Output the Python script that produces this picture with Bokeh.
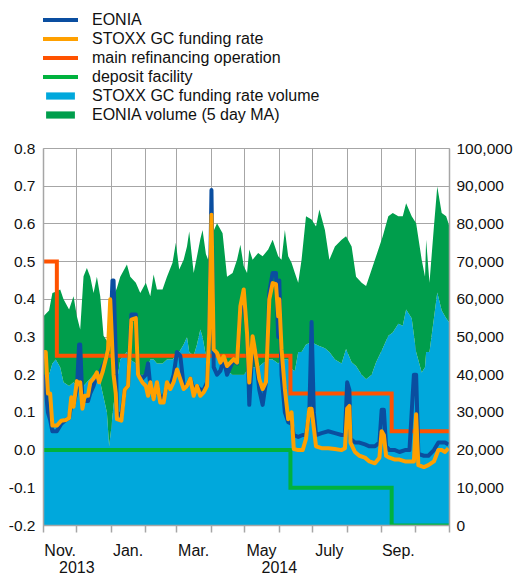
import pandas as pd
from bokeh.plotting import figure
from bokeh.layouts import column
from bokeh.models import (Range1d, LinearAxis, FixedTicker, NumeralTickFormatter,
                          Legend, LegendItem)
from bokeh.embed import file_html
from bokeh.resources import INLINE

# ---------------- data ----------------
rate_dates = [
    "2013-11-01", "2013-11-03", "2013-11-05", "2013-11-07", "2013-11-09", "2013-11-13",
    "2013-11-17", "2013-11-21", "2013-11-24", "2013-11-26", "2013-11-28", "2013-12-01",
    "2013-12-03", "2013-12-04", "2013-12-06", "2013-12-08", "2013-12-11", "2013-12-13",
    "2013-12-16", "2013-12-19", "2013-12-21", "2013-12-24", "2013-12-27", "2013-12-29",
    "2013-12-31", "2014-01-02", "2014-01-03", "2014-01-05", "2014-01-06", "2014-01-10",
    "2014-01-13", "2014-01-16", "2014-01-19", "2014-01-23", "2014-01-25", "2014-01-29",
    "2014-02-01", "2014-02-03", "2014-02-05", "2014-02-08", "2014-02-11", "2014-02-14",
    "2014-02-17", "2014-02-20", "2014-02-23", "2014-02-26", "2014-03-01", "2014-03-04",
    "2014-03-07", "2014-03-10", "2014-03-13", "2014-03-16", "2014-03-19", "2014-03-22",
    "2014-03-25", "2014-03-28", "2014-03-30", "2014-04-01", "2014-04-03", "2014-04-06",
    "2014-04-09", "2014-04-12", "2014-04-15", "2014-04-18", "2014-04-21", "2014-04-24",
    "2014-04-27", "2014-04-30", "2014-05-03", "2014-05-05", "2014-05-08", "2014-05-10",
    "2014-05-14", "2014-05-17", "2014-05-20", "2014-05-23", "2014-05-26", "2014-05-29",
    "2014-05-31", "2014-06-01", "2014-06-03", "2014-06-06", "2014-06-09", "2014-06-12",
    "2014-06-14", "2014-06-18", "2014-06-22", "2014-06-25", "2014-06-28", "2014-06-30",
    "2014-07-02", "2014-07-04", "2014-07-09", "2014-07-15", "2014-07-21", "2014-07-27",
    "2014-07-30", "2014-08-01", "2014-08-03", "2014-08-04", "2014-08-08", "2014-08-12",
    "2014-08-17", "2014-08-21", "2014-08-26", "2014-08-30", "2014-09-01", "2014-09-03",
    "2014-09-05", "2014-09-08", "2014-09-13", "2014-09-17", "2014-09-22", "2014-09-26",
    "2014-09-30", "2014-10-02", "2014-10-04", "2014-10-09", "2014-10-13", "2014-10-18",
    "2014-10-22", "2014-10-25", "2014-10-28", "2014-10-31",
]
stoxx_rate = [
    0.26, 0.26, 0.15, 0.15, 0.065, 0.065,
    0.078, 0.08, 0.085, 0.14, 0.115, 0.183,
    0.175, 0.18, 0.11, 0.144, 0.144, 0.179,
    0.19, 0.206, 0.18, 0.206, 0.241, 0.267,
    0.40, 0.26, 0.20, 0.15, 0.082, 0.078,
    0.16, 0.17, 0.346, 0.35, 0.20, 0.179,
    0.17, 0.144, 0.18, 0.135, 0.18, 0.126,
    0.126, 0.18, 0.162, 0.18, 0.214, 0.188,
    0.162, 0.17, 0.19, 0.144, 0.17, 0.144,
    0.153, 0.17, 0.31, 0.624, 0.267, 0.258,
    0.232, 0.249, 0.223, 0.232, 0.241, 0.232,
    0.382, 0.426, 0.31, 0.179, 0.302, 0.267,
    0.188, 0.162, 0.18, 0.40, 0.443, 0.44,
    0.355, 0.40, 0.267, 0.162, 0.082, 0.10,
    0.003, 0.0, 0.0, 0.03, 0.11, 0.11,
    0.06, 0.01, 0.005, 0.005, 0.003, 0.0,
    0.005, 0.11, 0.117, 0.02, -0.005, -0.015,
    -0.02, -0.03, -0.035, -0.02, 0.05, 0.04,
    -0.015, -0.02, -0.025, -0.025, -0.03, -0.03,
    -0.03, 0.095, -0.04, -0.045, -0.04, -0.03,
    0.0, 0.0, -0.005, 0.005,
]
eonia = [
    0.20, 0.16, 0.10, 0.08, 0.05, 0.05,
    0.07, 0.08, 0.085, 0.12, 0.12, 0.16,
    0.28, 0.28, 0.13, 0.13, 0.13, 0.15,
    0.17, 0.20, 0.20, 0.22, 0.24, 0.27,
    0.30, 0.45, 0.45, 0.25, 0.10, 0.09,
    0.16, 0.17, 0.36, 0.36, 0.20, 0.19,
    0.20, 0.23, 0.17, 0.14, 0.17, 0.14,
    0.14, 0.17, 0.17, 0.20, 0.26, 0.25,
    0.17, 0.17, 0.19, 0.16, 0.17, 0.16,
    0.16, 0.18, 0.30, 0.69, 0.22, 0.20,
    0.21, 0.24, 0.20, 0.22, 0.24, 0.23,
    0.37, 0.39, 0.32, 0.12, 0.28, 0.27,
    0.16, 0.12, 0.18, 0.42, 0.47, 0.47,
    0.30, 0.45, 0.20, 0.10, 0.074, 0.07,
    0.04, 0.035, 0.04, 0.04, 0.10, 0.34,
    0.10, 0.04, 0.045, 0.05, 0.045, 0.04,
    0.04, 0.18, 0.16, 0.03, 0.02, 0.02,
    0.015, 0.01, 0.01, 0.02, 0.107, 0.107,
    0.01, 0.0, 0.0, -0.005, 0.0, 0.0,
    0.20, 0.20, -0.01, -0.015, -0.015, 0.0,
    0.02, 0.02, 0.02, 0.015,
]

vol_dates = [
    "2013-11-01", "2013-11-06", "2013-11-09", "2013-11-12", "2013-11-16", "2013-11-19",
    "2013-11-24", "2013-11-28", "2013-12-01", "2013-12-04", "2013-12-07", "2013-12-10",
    "2013-12-13", "2013-12-16", "2013-12-19", "2013-12-22", "2013-12-25", "2013-12-28",
    "2013-12-30", "2014-01-01", "2014-01-03", "2014-01-06", "2014-01-09", "2014-01-15",
    "2014-01-18", "2014-01-23", "2014-01-27", "2014-02-01", "2014-02-05", "2014-02-08",
    "2014-02-11", "2014-02-16", "2014-02-20", "2014-02-25", "2014-02-28", "2014-03-03",
    "2014-03-07", "2014-03-10", "2014-03-12", "2014-03-16", "2014-03-19", "2014-03-22",
    "2014-03-24", "2014-03-27", "2014-03-29", "2014-04-02", "2014-04-06", "2014-04-11",
    "2014-04-15", "2014-04-20", "2014-04-24", "2014-04-27", "2014-04-30", "2014-05-03",
    "2014-05-05", "2014-05-08", "2014-05-13", "2014-05-17", "2014-05-22", "2014-05-26",
    "2014-05-31", "2014-06-03", "2014-06-06", "2014-06-09", "2014-06-12", "2014-06-15",
    "2014-06-18", "2014-06-21", "2014-06-25", "2014-06-30", "2014-07-04", "2014-07-07",
    "2014-07-12", "2014-07-16", "2014-07-21", "2014-07-27", "2014-07-31", "2014-08-05",
    "2014-08-09", "2014-08-14", "2014-08-18", "2014-08-23", "2014-08-27", "2014-09-02",
    "2014-09-07", "2014-09-11", "2014-09-16", "2014-09-20", "2014-09-23", "2014-09-28",
    "2014-10-02", "2014-10-07", "2014-10-10", "2014-10-11", "2014-10-14", "2014-10-18",
    "2014-10-21", "2014-10-25", "2014-10-29", "2014-11-01",
]
stoxx_vol = [
    36000, 40000, 43000, 44000, 42000, 38000,
    37000, 38000, 37000, 37000, 37000, 38000,
    39000, 40000, 40000, 38000, 34000, 30000,
    21000, 26000, 32000, 38000, 44000, 46000,
    44000, 43000, 40000, 40000, 44000, 44000,
    43000, 43000, 44000, 44000, 45000, 46000,
    48000, 50000, 46000, 45000, 48000, 52000,
    50000, 45000, 45000, 47000, 46000, 44000,
    41000, 40000, 40000, 40000, 40000, 41000,
    41500, 42000, 42000, 43000, 44000, 44000,
    43000, 44000, 44000, 44000, 41500, 41000,
    46000, 46000, 48000, 48600, 48000, 47600,
    47000, 46000, 44000, 43000, 46800, 43300,
    42300, 40000, 38800, 40000, 43300, 47000,
    50300, 51200, 53500, 53000, 57300, 55000,
    46000, 40600, 42000, 46000, 46000, 55000,
    61800, 57000, 55000, 53800,
]
eonia_vol = [
    19500, 17000, 18700, 18000, 20600, 22000,
    20300, 22800, 18500, 15000, 29100, 30300,
    27000, 21700, 26000, 22800, 16300, 19000,
    27600, 22000, 28800, 25000, 22000, 23200,
    22000, 21400, 21700, 24400, 16800, 22600,
    19600, 19600, 22000, 25700, 30000, 21900,
    22500, 24000, 32000, 22000, 23400, 24000,
    28400, 27000, 25500, 30500, 34200, 33500,
    25000, 27000, 30500, 34500, 28800, 26000,
    31700, 28500, 30300, 28400, 29200, 31800,
    28400, 26500, 34400, 27400, 28200, 26000,
    18400, 24500, 34000, 32600, 31300, 36200,
    31400, 24500, 30000, 32800, 29900, 30700,
    23700, 24400, 24700, 27900, 28100, 29700,
    31700, 31700, 28500, 29000, 28200, 27000,
    34200, 29900, 24000, 29800, 18400, 24300,
    28100, 25900, 27000, 25500,
]

policy_dates = ["2013-11-01", "2013-11-13", "2014-06-11", "2014-09-10", "2014-11-01"]
mro = [0.50, 0.25, 0.15, 0.05, 0.05]
deposit = [0.00, 0.00, -0.10, -0.20, -0.20]

left_ticks = [-0.2, -0.1, 0.0, 0.1, 0.2, 0.3, 0.4, 0.5, 0.6, 0.7, 0.8]
right_ticks = [0, 10000, 20000, 30000, 40000, 50000, 60000, 70000, 80000, 90000, 100000]
month_labels = ["Nov.", "Jan.", "Mar.", "May", "July", "Sep."]
year_labels = ["2013", "2014"]
legend_labels = ["EONIA", "STOXX GC funding rate", "main refinancing operation",
                 "deposit facility", "STOXX GC funding rate volume", "EONIA volume (5 day MA)"]

# ---------------- helpers ----------------
START = pd.Timestamp("2013-11-01")


def days(ds):
    return [int((pd.Timestamp(d) - START).days) for d in ds]


bounds = days([str(d.date()) for d in pd.date_range("2013-11-01", "2014-11-01", freq="MS")])
month_mid = [(bounds[i] + bounds[i + 1]) // 2 for i in range(0, 12, 2)]
year_ticks = [bounds[1], bounds[7]]

rate_x = days(rate_dates)
vol_x = days(vol_dates)
pol_x = days(policy_dates)
total_vol = [a + b for a, b in zip(stoxx_vol, eonia_vol)]

FONT = "Liberation Sans"
GRID = "#a6a6a6"
TXT = "#111111"
C_EONIA = "#0a4ea0"
C_STOXX = "#ffa000"
C_MRO = "#ff5200"
C_DF = "#00b23e"
C_SVOL = "#00a8dc"
C_EVOL = "#009e4c"

# ---------------- legend figure (top) ----------------
lg = figure(width=515, height=130, output_backend="svg", toolbar_location=None,
            x_range=Range1d(0, 1), y_range=Range1d(0, 1),
            x_axis_location=None, y_axis_location=None, min_border=0)
lg.grid.visible = False
lg.outline_line_color = None
d1 = lg.line(x=[5, 6], y=[5, 6], line_color=C_EONIA, line_width=4)
d2 = lg.line(x=[5, 6], y=[5, 6], line_color=C_STOXX, line_width=4)
d3 = lg.line(x=[5, 6], y=[5, 6], line_color=C_MRO, line_width=4)
d4 = lg.line(x=[5, 6], y=[5, 6], line_color=C_DF, line_width=4)
d5 = lg.varea(x=[5, 6], y1=5, y2=6, fill_color=C_SVOL)
d6 = lg.varea(x=[5, 6], y1=5, y2=6, fill_color=C_EVOL)
legend = Legend(items=[LegendItem(label=t, renderers=[r]) for t, r in
                       zip(legend_labels, [d1, d2, d3, d4, d5, d6])],
                location=(-1, 6), orientation="vertical", glyph_width=36, glyph_height=9,
                label_height=19, spacing=0, padding=0, margin=0, label_standoff=14,
                label_text_font=FONT, label_text_font_size="16px", label_text_color=TXT,
                background_fill_alpha=0, border_line_alpha=0)
lg.add_layout(legend, "center")

# ---------------- main chart ----------------
p = figure(width=515, height=445, output_backend="svg", toolbar_location=None,
           x_range=Range1d(0, bounds[-1]), y_range=Range1d(-0.2, 0.8),
           x_axis_location=None,
           min_border_left=43, min_border_right=65, min_border_top=18, min_border_bottom=48)
p.extra_y_ranges = {"vol": Range1d(0, 100000)}
p.outline_line_color = GRID

p.ygrid.ticker = FixedTicker(ticks=left_ticks)
p.ygrid.grid_line_color = GRID
p.xgrid.ticker = FixedTicker(ticks=bounds)
p.xgrid.grid_line_color = GRID

ya = p.yaxis[0]
ya.ticker = FixedTicker(ticks=left_ticks)
ya.formatter = NumeralTickFormatter(format="0.0")
ya.major_tick_out = 0
ya.major_tick_in = 0
ya.minor_tick_out = 0
ya.minor_tick_in = 0
ya.axis_line_color = GRID
ya.axis_line_width = 1.5
ya.major_label_standoff = 8
ya.major_label_text_font = FONT
ya.major_label_text_font_size = "15.5px"
ya.major_label_text_color = TXT

ra = LinearAxis(y_range_name="vol", ticker=FixedTicker(ticks=right_ticks),
                formatter=NumeralTickFormatter(format="0,0"),
                major_tick_out=0, major_tick_in=0, minor_tick_out=0, minor_tick_in=0,
                axis_line_color=GRID, axis_line_width=1.5, major_label_standoff=7,
                major_label_text_font=FONT, major_label_text_font_size="15.5px",
                major_label_text_color=TXT)
p.add_layout(ra, "right")

xa = LinearAxis(ticker=FixedTicker(ticks=month_mid, minor_ticks=bounds),
                major_label_overrides=dict(zip(month_mid, month_labels)),
                major_tick_out=0, major_tick_in=0, major_tick_line_color=None,
                minor_tick_out=7, minor_tick_in=0, minor_tick_line_color=GRID,
                minor_tick_line_width=1.5,
                axis_line_color=GRID, axis_line_width=1.5, major_label_standoff=9,
                major_label_text_font=FONT, major_label_text_font_size="16px",
                major_label_text_color=TXT)
p.add_layout(xa, "below")
xy = LinearAxis(ticker=FixedTicker(ticks=year_ticks, minor_ticks=[]),
                major_label_overrides=dict(zip(year_ticks, year_labels)),
                major_tick_out=0, major_tick_in=0, major_tick_line_color=None,
                minor_tick_out=0, minor_tick_in=0, minor_tick_line_color=None,
                axis_line_color=None, major_label_standoff=-1,
                major_label_text_font=FONT, major_label_text_font_size="16px",
                major_label_text_color=TXT)
p.add_layout(xy, "below")

p.varea(x=vol_x, y1=0, y2=stoxx_vol, fill_color=C_SVOL, y_range_name="vol")
p.varea(x=vol_x, y1=stoxx_vol, y2=total_vol, fill_color=C_EVOL, y_range_name="vol")
p.step(x=pol_x, y=deposit, mode="after", line_color=C_DF, line_width=4, line_join="miter")
p.step(x=pol_x, y=mro, mode="after", line_color=C_MRO, line_width=4, line_join="miter")
p.line(x=rate_x, y=eonia, line_color=C_EONIA, line_width=4, line_join="round")
p.line(x=rate_x, y=stoxx_rate, line_color=C_STOXX, line_width=4, line_join="round")

layout = column(lg, p, spacing=0)
open("out.html", "w").write(file_html(layout, INLINE))
